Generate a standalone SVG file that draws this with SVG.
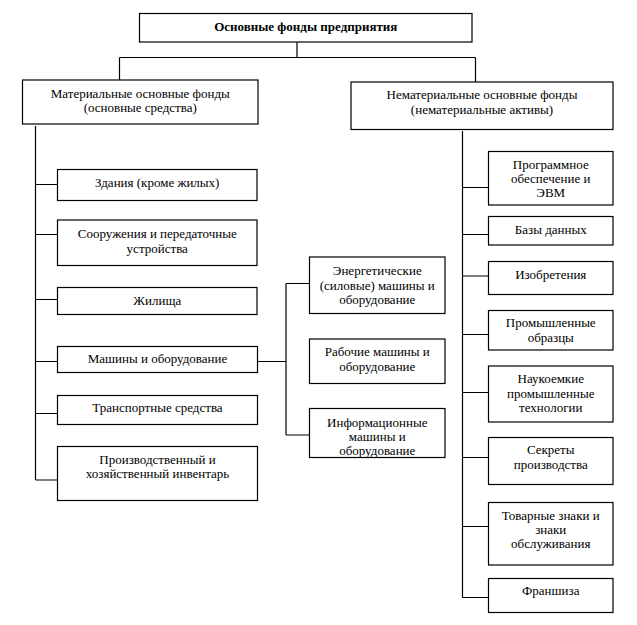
<svg xmlns="http://www.w3.org/2000/svg" width="637" height="625" viewBox="0 0 637 625" font-family="'Liberation Serif', serif">
<style>
.b{fill:#fff;stroke:#000;stroke-width:1.2}
.c{fill:none;stroke:#000;stroke-width:1.2}
text{font-family:"Liberation Serif",serif;font-size:13px;fill:#000;text-anchor:middle}
.t{font-weight:bold}
</style>
<rect width="637" height="625" fill="#fff"/>
<g id="connectors">
<path class="c" d="M297,42 V57.5 M119.5,57.5 H475.5 M119.5,57.5 V80 M475.5,57.5 V82"/>
<path class="c" d="M35.5,126 V480 M35.5,184.5 H57.5 M35.5,234.5 H57.5 M35.5,299.5 H57.5 M35.5,361.5 H57.5 M35.5,413.5 H57.5 M35.5,480 H57.5"/>
<path class="c" d="M257.5,361.5 H286 M286,283.5 V435 M286,283.5 H309.5 M286,435 H309.5"/>
<path class="c" d="M462.5,131 V597.5 M462.5,187.5 H488.5 M462.5,234.5 H488.5 M462.5,276 H488.5 M462.5,334.5 H488.5 M462.5,392.5 H488.5 M462.5,457.5 H488.5 M462.5,526.5 H488.5 M462.5,597.5 H488.5"/>
</g>
<g id="root"><rect class="b" x="139.5" y="13.5" width="332.5" height="28.5"/><text class="t" x="305.75" y="30.5">Основные фонды предприятия</text></g>
<g id="material"><rect class="b" x="22.5" y="80" width="235.5" height="44"/><text x="140.25" y="97.5">Материальные основные фонды</text><text x="140.25" y="112">(основные средства)</text></g>
<g id="nonmaterial"><rect class="b" x="351" y="82" width="262" height="47.5"/><text x="482" y="99">Нематериальные основные фонды</text><text x="482" y="113.5">(нематериальные активы)</text></g>
<g id="m1"><rect class="b" x="57.5" y="169.5" width="199.5" height="31"/><text x="157.25" y="187">Здания (кроме жилых)</text></g>
<g id="m2"><rect class="b" x="57.5" y="220" width="199.5" height="45.5"/><text x="157.25" y="237.5">Сооружения и передаточные</text><text x="157.25" y="252.5">устройства</text></g>
<g id="m3"><rect class="b" x="57.5" y="287.5" width="199.5" height="27"/><text x="157.25" y="304.5">Жилища</text></g>
<g id="m4"><rect class="b" x="57.5" y="346.5" width="200" height="26"/><text x="157.5" y="362.5">Машины и оборудование</text></g>
<g id="m5"><rect class="b" x="57.5" y="395.5" width="200" height="29"/><text x="157.5" y="411.5">Транспортные средства</text></g>
<g id="m6"><rect class="b" x="57.5" y="446.5" width="200" height="54"/><text x="157.5" y="464">Производственный и</text><text x="157.5" y="478">хозяйственный инвентарь</text></g>
<g id="e1"><rect class="b" x="309.5" y="257" width="135.5" height="56.5"/><text x="377.25" y="274.5">Энергетические</text><text x="377.25" y="289.5">(силовые) машины и</text><text x="377.25" y="304">оборудование</text></g>
<g id="e2"><rect class="b" x="309.5" y="339" width="135.5" height="44.5"/><text x="377.25" y="356">Рабочие машины и</text><text x="377.25" y="371">оборудование</text></g>
<g id="e3"><rect class="b" x="309.5" y="408.5" width="135.5" height="49"/><text x="377.25" y="427">Информационные</text><text x="377.25" y="441">машины и</text><text x="377.25" y="455">оборудование</text></g>
<g id="n1"><rect class="b" x="488.5" y="151.5" width="124.5" height="53.5"/><text x="550.75" y="169">Программное</text><text x="550.75" y="183">обеспечение и</text><text x="550.75" y="197">ЭВМ</text></g>
<g id="n2"><rect class="b" x="488.5" y="216.5" width="124.5" height="28.5"/><text x="550.75" y="233.5">Базы данных</text></g>
<g id="n3"><rect class="b" x="488.5" y="261.5" width="124.5" height="33"/><text x="550.75" y="278.5">Изобретения</text></g>
<g id="n4"><rect class="b" x="488.5" y="310.5" width="124.5" height="39.5"/><text x="550.75" y="327">Промышленные</text><text x="550.75" y="341.5">образцы</text></g>
<g id="n5"><rect class="b" x="488.5" y="366" width="124.5" height="56"/><text x="550.75" y="383">Наукоемкие</text><text x="550.75" y="398">промышленные</text><text x="550.75" y="412">технологии</text></g>
<g id="n6"><rect class="b" x="488.5" y="437.5" width="124.5" height="47"/><text x="550.75" y="453.5">Секреты</text><text x="550.75" y="469">производства</text></g>
<g id="n7"><rect class="b" x="488.5" y="502.5" width="124.5" height="62.5"/><text x="550.75" y="519.5">Товарные знаки и</text><text x="550.75" y="534">знаки</text><text x="550.75" y="548">обслуживания</text></g>
<g id="n8"><rect class="b" x="488.5" y="578.5" width="124.5" height="34"/><text x="550.75" y="594.5">Франшиза</text></g>
</svg>
